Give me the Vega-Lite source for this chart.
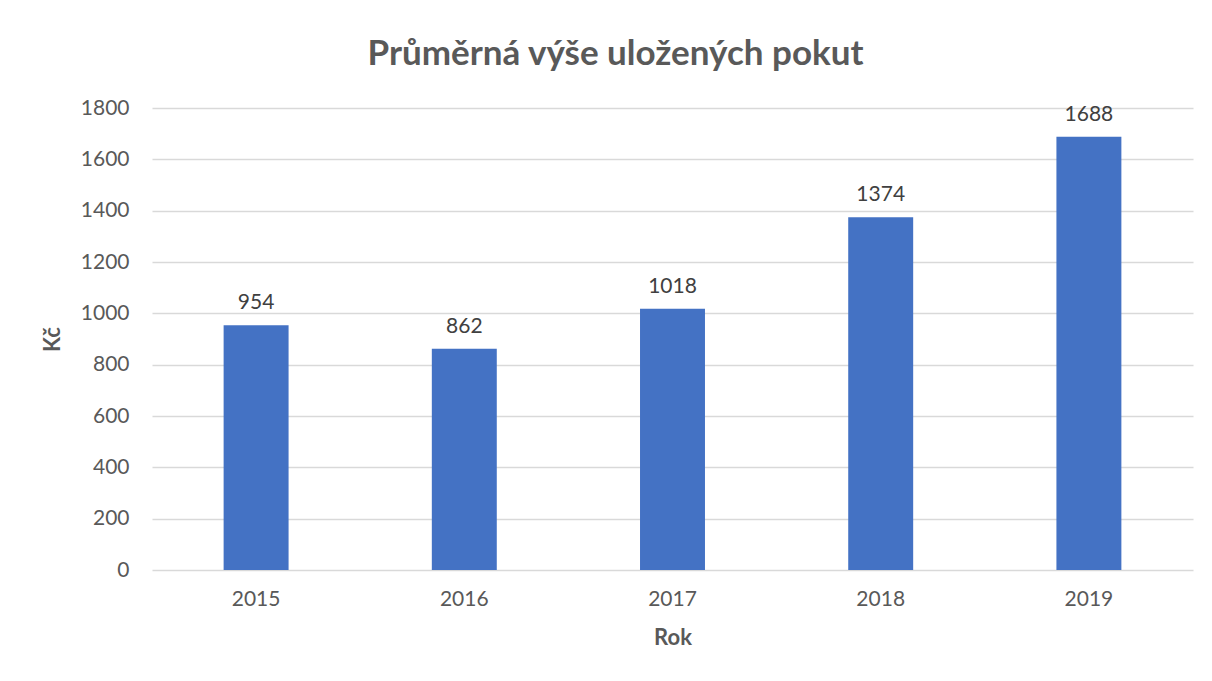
{
  "$schema": "https://vega.github.io/schema/vega-lite/v6.json",
  "width": 1041,
  "height": 462,
  "autosize": "none",
  "padding": {"left": 152, "top": 108, "right": 19, "bottom": 111},
  "background": "white",
  "title": {
    "text": "Průměrná výše uložených pokut",
    "font": "Lato",
    "fontSize": 35,
    "fontWeight": "bold",
    "color": "#595959",
    "anchor": "middle",
    "dx": -57,
    "offset": 25
  },
  "data": {
    "values": [
      {"Rok": "2015", "Kc": 954},
      {"Rok": "2016", "Kc": 862},
      {"Rok": "2017", "Kc": 1018},
      {"Rok": "2018", "Kc": 1374},
      {"Rok": "2019", "Kc": 1688}
    ]
  },
  "config": {
    "view": {"stroke": null},
    "axis": {
      "labelFont": "Lato",
      "labelFontSize": 21,
      "labelColor": "#595959",
      "titleFont": "Lato",
      "titleFontSize": 22,
      "titleFontWeight": "bold",
      "titleColor": "#595959",
      "ticks": false,
      "gridColor": "#d9d9d9",
      "gridWidth": 1.5
    }
  },
  "encoding": {
    "x": {
      "field": "Rok",
      "type": "ordinal",
      "title": "Rok",
      "scale": {"paddingInner": 0.688, "paddingOuter": 0.344},
      "axis": {"labelAngle": 0, "labelPadding": 18, "domain": false, "titlePadding": 18}
    },
    "y": {
      "field": "Kc",
      "type": "quantitative",
      "title": "Kč",
      "scale": {"domain": [0, 1800], "nice": false},
      "axis": {"values": [0, 200, 400, 600, 800, 1000, 1200, 1400, 1600, 1800], "format": "d", "labelPadding": 23, "domain": false, "titlePadding": 16}
    }
  },
  "layer": [
    {"mark": {"type": "bar", "color": "#4472c4"}},
    {
      "mark": {"type": "text", "baseline": "bottom", "dy": -12, "font": "Lato", "fontSize": 21, "color": "#404040"},
      "encoding": {"text": {"field": "Kc", "type": "quantitative", "format": "d"}}
    }
  ]
}
